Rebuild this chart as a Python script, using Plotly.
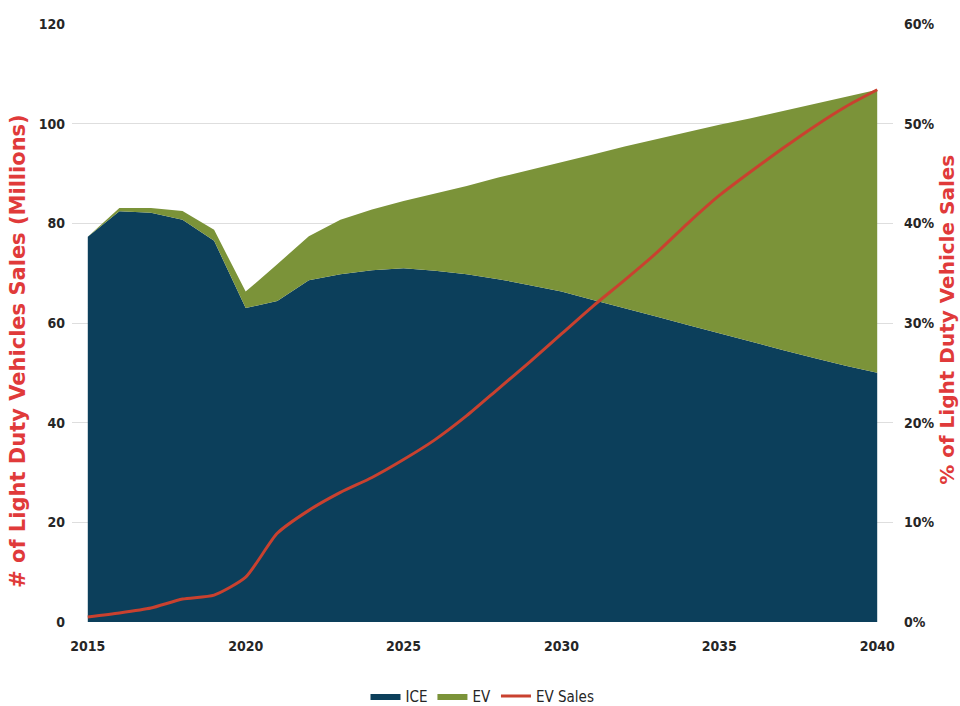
import plotly.graph_objects as go

years = list(range(2015, 2041))
ice = [77.3, 82.4, 82.1, 80.7, 76.5, 63.0, 64.4, 68.6, 69.8, 70.6, 71.0, 70.5, 69.8,
       68.8, 67.6, 66.3, 64.6, 63.0, 61.3, 59.6, 57.9, 56.2, 54.6, 53.0, 51.4, 50.0]
total = [77.3, 83.1, 83.1, 82.5, 78.7, 66.3, 71.8, 77.4, 80.7, 82.8, 84.5, 86.0, 87.5,
         89.2, 90.7, 92.2, 93.8, 95.4, 96.9, 98.4, 99.8, 101.1, 102.5, 103.9, 105.3, 106.8]
ev = [round(t - i, 2) for t, i in zip(total, ice)]
ev_share = [0.5, 0.9, 1.4, 2.3, 2.7, 4.5, 8.9, 11.2, 13.0, 14.5, 16.3, 18.3, 20.7,
            23.4, 26.1, 28.9, 31.7, 34.3, 37.0, 40.0, 42.8, 45.2, 47.5, 49.7, 51.7, 53.4]

left_ticks = [0, 20, 40, 60, 80, 100, 120]
right_ticks = [0, 10, 20, 30, 40, 50, 60]
x_ticks = [2015, 2020, 2025, 2030, 2035, 2040]

C_ICE = "#0c3f5b"
C_EV = "#7b9339"
C_LINE = "#c9412f"
RED_TITLE = "#e03a3a"
COND = "DejaVu Sans Condensed, Liberation Sans Narrow, Arial Narrow, Arial"
TICK_FONT = dict(family=COND, size=14, color="#262626", weight="bold")

fig = go.Figure()
fig.add_trace(go.Scatter(x=years, y=ice, name="ICE", mode="lines", stackgroup="one",
                         line=dict(width=0, color=C_ICE), fillcolor=C_ICE))
fig.add_trace(go.Scatter(x=years, y=ev, name="EV", mode="lines", stackgroup="one",
                         line=dict(width=0, color=C_EV), fillcolor=C_EV))
fig.add_trace(go.Scatter(x=years, y=ev_share, name="EV Sales", mode="lines", yaxis="y2",
                         line=dict(color=C_LINE, width=3, shape="spline", smoothing=0.6)))

fig.update_layout(
    width=960, height=706,
    margin=dict(l=72, r=67, t=24, b=84, autoexpand=False),
    plot_bgcolor="white", paper_bgcolor="white",
    showlegend=True,
    legend=dict(orientation="h", x=0.5, xanchor="center", y=-0.124, yanchor="middle",
                font=dict(family=COND, size=15, color="#262626"),
                itemwidth=30, tracegroupgap=0, traceorder="normal"),
    xaxis=dict(range=[2014.5, 2040.5], tickmode="array", tickvals=x_ticks,
               ticktext=[str(v) for v in x_ticks], showgrid=False, zeroline=False,
               showline=False, ticks="", ticklabelstandoff=14, tickfont=TICK_FONT),
    yaxis=dict(range=[0, 120], tickmode="array", tickvals=left_ticks,
               ticktext=[str(v) for v in left_ticks], showgrid=True, gridcolor="#dedede",
               gridwidth=1, zeroline=False, showline=False, ticks="", tickfont=TICK_FONT,
               ticklabelstandoff=6),
    yaxis2=dict(range=[0, 60], overlaying="y", side="right", tickmode="array",
                tickvals=right_ticks, ticktext=[f"{v}%" for v in right_ticks],
                showgrid=False, zeroline=False, showline=False, ticks="",
                tickfont=TICK_FONT, ticklabelstandoff=10),
    annotations=[
        dict(text="# of Light Duty Vehicles Sales (Millions)", xref="paper", yref="paper",
             x=-0.066, y=0.453, textangle=-90, showarrow=False, xanchor="center",
             yanchor="middle",
             font=dict(family="DejaVu Sans", size=21, color=RED_TITLE, weight="bold")),
        dict(text="% of Light Duty Vehicle Sales", xref="paper", yref="paper",
             x=1.0655, y=0.505, textangle=-90, showarrow=False, xanchor="center",
             yanchor="middle",
             font=dict(family="DejaVu Sans", size=20, color=RED_TITLE, weight="bold")),
    ],
)

fig.write_html("out.html")
